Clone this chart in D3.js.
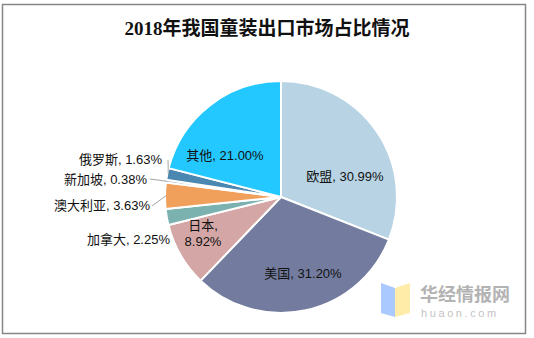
<!DOCTYPE html>
<html>
<head>
<meta charset="utf-8">
<script src="https://cdn.jsdelivr.net/npm/d3@7"></script>
<style>
  html, body { margin: 0; padding: 0; background: #fff; }
  svg { display: block; }
</style>
</head>
<body>
<svg id="chart" width="534" height="338"></svg>
<script>
// Export market shares, clockwise from 12 o'clock
const categories = ["欧盟", "美国", "日本", "加拿大", "澳大利亚", "新加坡", "俄罗斯", "其他"];
const shares = [30.99, 31.20, 8.92, 2.25, 3.63, 0.38, 1.63, 21.00];
const sliceColors = ["#B8D3E4", "#737C9F", "#D4A7A6", "#7BB2AF", "#F1A05B", "#8FA5C9", "#4A87B1", "#22C8FF"];
const title = "2018年我国童装出口市场占比情况";

const W = 534, H = 338;
const cx = 281, cy = 197, R = 116;
const svg = d3.select("#chart");

// chart frame
svg.append("rect")
  .attr("x", 2.5).attr("y", 4.5).attr("width", 523).attr("height", 329)
  .attr("fill", "#fff").attr("stroke", "#868686").attr("stroke-width", 1.5);

// title
svg.append("text")
  .attr("x", 267).attr("y", 35)
  .attr("text-anchor", "middle")
  .attr("font-family", "'Liberation Serif', 'Noto Sans CJK SC', serif")
  .attr("font-weight", "bold")
  .attr("font-size", 19)
  .attr("fill", "#111")
  .text(title);

const data = categories.map((c, i) => ({ name: c, value: shares[i], color: sliceColors[i] }));

const pie = d3.pie().value(d => d.value).sort(null);
const arcs = pie(data);
const arc = d3.arc().innerRadius(0).outerRadius(R);

const g = svg.append("g").attr("transform", `translate(${cx},${cy})`);

g.selectAll("path.slice")
  .data(arcs)
  .join("path")
  .attr("class", "slice")
  .attr("d", arc)
  .attr("fill", d => d.data.color)
  .attr("stroke", "#fff")
  .attr("stroke-width", 2)
  .attr("stroke-linejoin", "round");

// label placement: inside labels centred, outside labels right-aligned with leader lines
const labelFont = "'Liberation Sans', 'Noto Sans CJK SC', Arial, sans-serif";
const labelLayout = {
  "欧盟":   { dx: 64,  dy: -21, anchor: "middle" },
  "美国":   { dx: 22,  dy: 76,  anchor: "middle" },
  "日本":   { dx: -78, dy: 36,  anchor: "middle", wrap: true },
  "加拿大": { dx: -111, dy: 42, anchor: "end" },
  "澳大利亚": { dx: -131, dy: 8, anchor: "end", leader: [-131, 9] },
  "新加坡": { dx: -134, dy: -18, anchor: "end", leader: [-133, -18] },
  "俄罗斯": { dx: -119, dy: -38, anchor: "end", leader: [-115, -37] },
  "其他":   { dx: -56, dy: -42, anchor: "middle" }
};

const fmt = d => d.toFixed(2) + "%";

arcs.forEach(a => {
  const L = labelLayout[a.data.name];
  if (L.leader) {
    const mid = (a.startAngle + a.endAngle) / 2;
    const ex = Math.sin(mid) * (R - 1), ey = -Math.cos(mid) * (R - 1);
    g.append("line")
      .attr("x1", L.leader[0] + 2).attr("y1", L.leader[1])
      .attr("x2", ex).attr("y2", ey)
      .attr("stroke", "#a6a6a6").attr("stroke-width", 1);
  }
  const t = g.append("text")
    .attr("font-family", labelFont)
    .attr("font-size", 13)
    .attr("fill", "#111")
    .attr("text-anchor", L.anchor);
  if (L.wrap) {
    t.append("tspan").attr("x", L.dx).attr("y", L.dy - 8 + 4.5).text(a.data.name + ",");
    t.append("tspan").attr("x", L.dx).attr("y", L.dy + 8 + 4.5).text(fmt(a.data.value));
  } else {
    t.attr("x", L.dx).attr("y", L.dy + 4.5).text(`${a.data.name}, ${fmt(a.data.value)}`);
  }
});

// watermark logo
const logo = svg.append("g");
logo.append("polygon")
  .attr("points", "381,283 395,288 395,317 381,313")
  .attr("fill", "#A9C9FF");
logo.append("polygon")
  .attr("points", "395,288 410,283 410,313 395,317")
  .attr("fill", "#FFECA9");
logo.append("text")
  .attr("x", 420).attr("y", 301)
  .attr("font-family", "'Noto Sans CJK SC', sans-serif")
  .attr("font-weight", "bold")
  .attr("font-size", 18)
  .attr("fill", "#b3b3b3")
  .text("华经情报网");
logo.append("text")
  .attr("x", 421).attr("y", 317)
  .attr("font-family", "'Liberation Sans', Arial, sans-serif")
  .attr("font-size", 11)
  .attr("letter-spacing", 2.6)
  .attr("fill", "#c4c4c4")
  .text("huaon.com");
</script>
</body>
</html>
